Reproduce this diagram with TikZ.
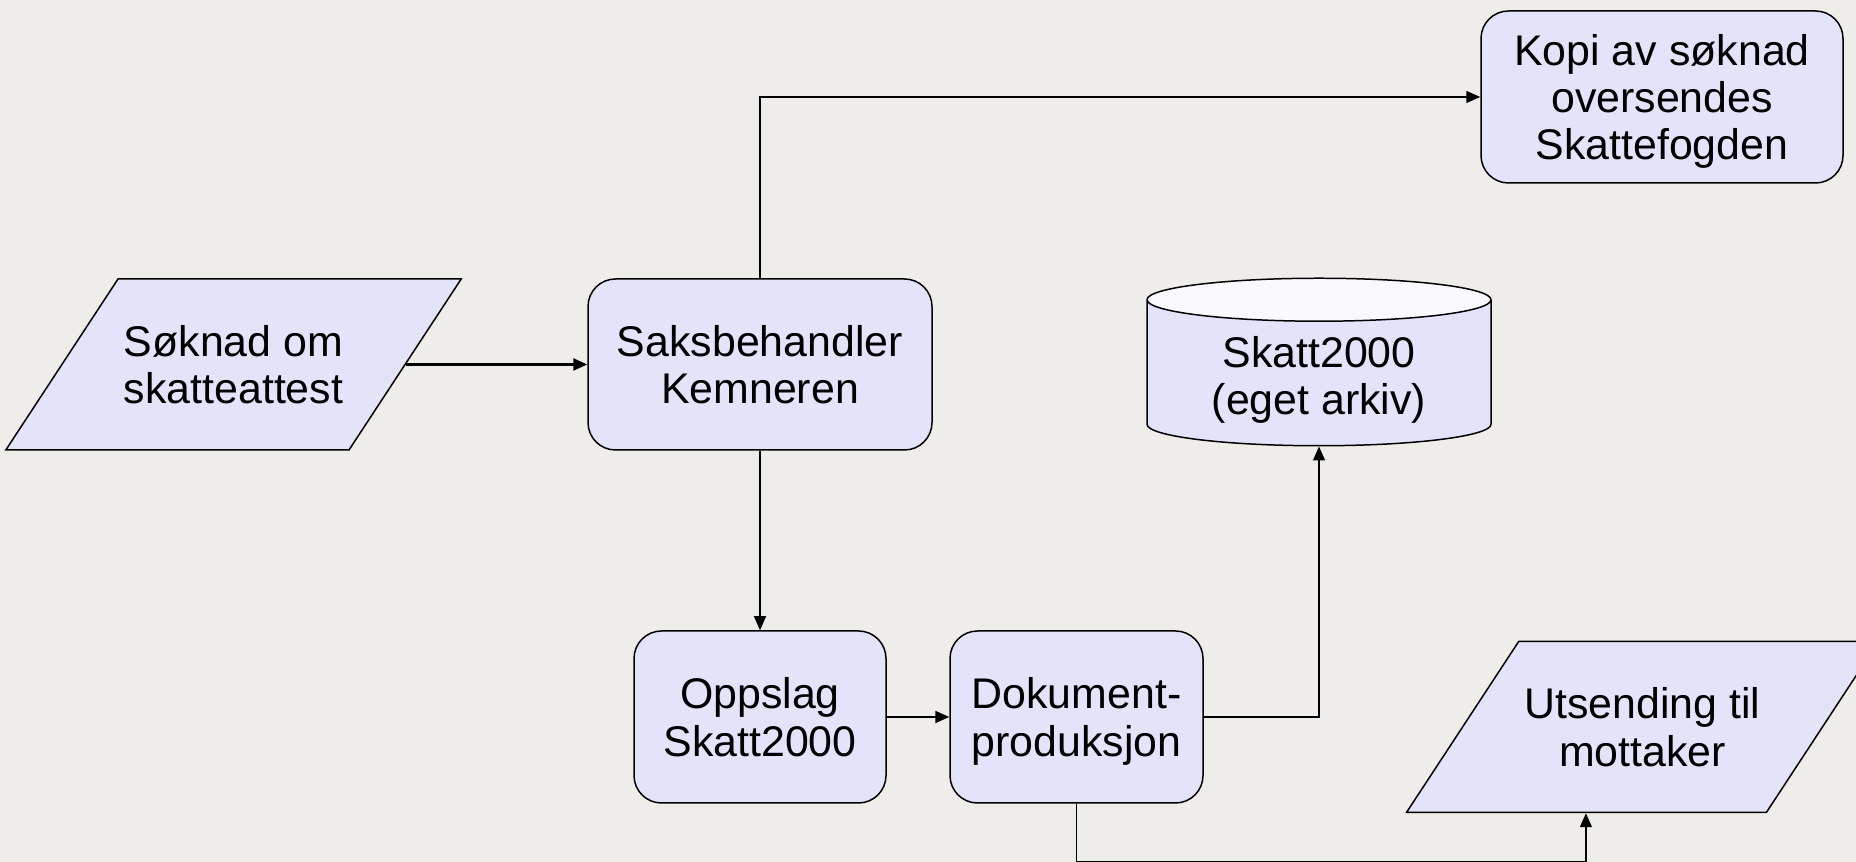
\documentclass[tikz,border=0pt]{standalone}
\usepackage{fontspec}
\setmainfont{Liberation Sans}
\usetikzlibrary{shapes.geometric,arrows.meta}

\definecolor{bakgrunn}{RGB}{238,237,234}
\definecolor{boksfyll}{RGB}{227,227,250}
\definecolor{toppfyll}{RGB}{250,250,254}

\newcommand{\tekst}{\fontsize{24.4}{26.8}\selectfont}

\tikzstyle{boks}=[rectangle, rounded corners=0.55cm, draw, fill=boksfyll, line width=0.85pt, align=center, text depth=0pt, font=\tekst]
\tikzstyle{inndata}=[trapezium, trapezium left angle=38.7, trapezium right angle=141.3, trapezium stretches=true, draw, fill=boksfyll, line width=0.85pt, align=center, text depth=0pt, font=\tekst]
\tikzstyle{database}=[cylinder, shape border rotate=90, aspect=0.19, cylinder uses custom fill, cylinder body fill=boksfyll, cylinder end fill=toppfyll, draw, line width=0.85pt, align=center, text depth=0pt, font=\tekst]
\tikzstyle{pil}=[-{Triangle[length=0.28cm, width=0.24cm]}, line width=0.7pt]

\begin{document}
\begin{tikzpicture}
        \useasboundingbox (0, 0) rectangle (37.12, 17.24);
        \clip (0, 0) rectangle (37.12, 17.24);
        \fill[bakgrunn] (0, 0) rectangle (37.12, 17.24);

        \node[inndata, minimum width=8.9cm, minimum height=3.42cm](soknad) at (4.67, 9.95) {Søknad om\\skatteattest};
        \node[boks, minimum width=6.88cm, minimum height=3.42cm](saks) at (15.2, 9.95) {Saksbehandler\\Kemneren};
        \node[boks, minimum width=7.24cm, minimum height=3.44cm](kopi) at (33.24, 15.3) {Kopi av søknad\\oversendes\\Skattefogden};
        \node[database, minimum width=6.88cm, minimum height=3.35cm, anchor=shape center](skatt) at (26.38, 10.0) {Skatt2000\\(eget arkiv)};

        \node[boks, minimum width=5.04cm, minimum height=3.44cm](oppslag) at (15.2, 2.9) {Oppslag\\Skatt2000};
        \node[boks, minimum width=5.06cm, minimum height=3.44cm](dok) at (21.53, 2.9) {Dokument-\\produksjon};
        \node[inndata, minimum width=8.9cm, minimum height=3.42cm](utsending) at (32.85, 2.7) {Utsending til\\mottaker};

        \coordinate (bunn) at (0, 0);

        \begin{scope}[every path/.style={pil}]
            \draw[line width=1.4pt] (soknad.right side) -- (saks);
            \draw (saks) |- (kopi);
            \draw (saks) -- (oppslag);
            \draw[line width=1.1pt] (oppslag) -- (dok);
            \draw (dok) -| (skatt);
            \draw (dok) |- (bunn -| utsending.bottom side) -- (utsending.bottom side);
        \end{scope}
    \end{tikzpicture}
\end{document}
